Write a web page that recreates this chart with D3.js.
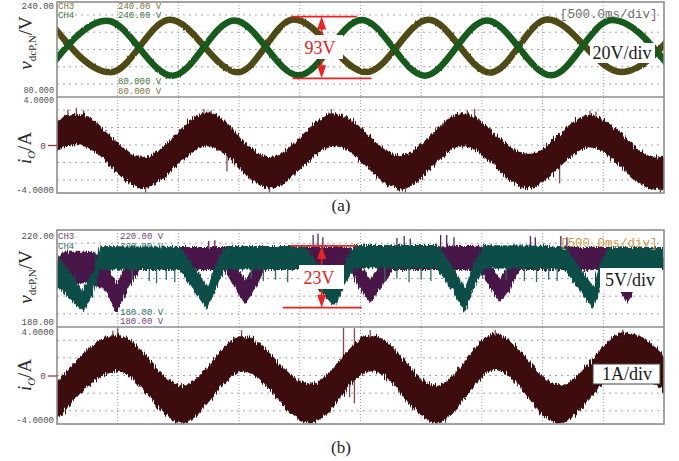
<!DOCTYPE html>
<html>
<head>
<meta charset="utf-8">
<script src="https://cdn.jsdelivr.net/npm/d3@7/dist/d3.min.js"></script>
<style>
  html, body { margin: 0; padding: 0; background: #ffffff; }
  svg { display: block; }
</style>
</head>
<body>
<svg id="scope" width="679" height="461"></svg>
<script>
// ---------- time base: 10 divisions at 500 ms/div ----------
const timeSpan = [0, 5];                       // s
const timeDivs = [0.5, 1, 1.5, 2, 2.5, 3, 3.5, 4, 4.5];
const gridDivs = [-2, -1, 0, 1, 2];

// ---------- (a) ----------
const aVoltRange = [80, 240];                  // V, window bottom / top
const aCurRange = [-4, 4];                     // A
const aVoltTickText = ["240.00", "80.000"];
const aCurTickText = ["4.0000", "-4.0000"];
const aChanNames = ["CH3", "CH4"];
const aChanTopText = ["240.00 V", "240.00 V"];
const aChanBottomText = ["80.000 V", "80.000 V"];

// CH3 (olive) and CH4 (green) DC-link voltages: extremes of each trace
const aCh3Time = [-0.07, 0.44, 0.93, 1.49, 1.95, 2.55, 3.06, 3.57, 4.04, 4.65, 5.17];
const aCh3Volt = [209.0, 121.5, 210.0, 121.5, 210.5, 122.0, 210.0, 121.0, 210.5, 122.0, 209.0];
const aCh4Time = [-0.11, 0.41, 0.95, 1.46, 1.99, 2.51, 3.03, 3.54, 4.07, 4.57, 5.10];
const aCh4Volt = [116.5, 208.5, 116.0, 209.0, 116.5, 209.5, 116.0, 209.0, 116.5, 209.5, 116.5];
const aSwing = [209.5, 116.5];                 // annotated peak / trough of CH4

// output current: upper and lower edge of the switching band
const aCurTime = [-0.35, 0.17, 0.71, 1.24, 1.75, 2.29, 2.83, 3.34, 3.88, 4.39, 4.93, 5.45];
const aCurHigh = [-0.95, 2.6, -1.0, 2.7, -1.0, 2.65, -0.85, 2.65, -0.75, 2.5, -0.95, 2.6];
const aCurLow  = [-3.55, 0.0, -3.6, -0.1, -3.6, -0.1, -3.7, -0.1, -3.6, -0.2, -3.75, -0.05];
const aCurSpikes = [[0.09, 2.95], [0.16, 3.1], [0.22, 2.9], [0.73, -4.1], [1.21, 3.0], [1.27, 2.9],
  [1.40, -2.2], [1.75, -4.1], [2.26, 3.0], [2.87, -4.1], [3.38, 2.9], [3.44, 3.0], [4.14, -3.2],
  [4.39, 2.85], [4.44, 2.8], [4.97, -4.1]];

// ---------- (b) ----------
const bVoltRange = [180, 220];
const bCurRange = [-4, 4];
const bVoltTickText = ["220.00", "180.00"];
const bCurTickText = ["4.0000", "-4.0000"];
const bChanNames = ["CH3", "CH4"];
const bChanTopText = ["220.00 V", "220.00 V"];
const bChanBottomText = ["180.00 V", "180.00 V"];

// CH3 (purple) voltage band
const bCh3Time = [0.00, 0.05, 0.30, 0.40, 0.49, 0.58, 0.68, 1.38, 1.47, 1.55, 1.63, 1.71, 2.41, 2.50, 2.58, 2.66, 2.76,
  3.48, 3.57, 3.65, 3.73, 3.81, 4.56, 4.62, 4.70, 4.77, 4.84, 5.00];
const bCh3High = [208.5, 211, 211, 207, 197.5, 207, 213, 213, 206, 199.5, 206, 213, 213, 206, 199.5, 206, 213,
  213.5, 206, 200, 206, 213, 213, 206, 199, 206, 213, 213];
const bCh3Low = [195.5, 198, 198, 195, 186, 195, 203.5, 203.5, 195.5, 189.5, 195.5, 203.5, 203.5, 195.5, 190, 195.5, 203.5,
  203.5, 195.5, 190.3, 195.5, 203.5, 203.5, 196, 190, 196, 203.5, 203.5];
const bCh3Spikes = [[1.25, 215.5], [1.30, 215.8], [2.11, 217.9], [2.15, 218.5], [2.19, 217], [2.80, 216.7],
  [2.86, 217.5], [2.91, 216.5], [3.16, 218], [3.21, 217.9], [3.27, 217], [3.90, 217.5], [3.94, 217],
  [4.15, 217.5], [4.20, 217]];

// CH4 (teal) voltage band
const bCh4Time = [0.00, 0.11, 0.21, 0.30, 0.35, 1.01, 1.12, 1.24, 1.32, 1.38, 2.04, 2.17, 2.29, 2.37, 2.45,
  3.13, 3.25, 3.36, 3.44, 3.52, 4.18, 4.30, 4.42, 4.47, 4.54, 5.00];
const bCh4High = [209.3, 202.7, 195.3, 203.5, 213.4, 213.0, 205.6, 196.5, 206.8, 213.4, 213.4, 204.3, 197.3, 206.8, 213.8,
  213.8, 205.6, 196.1, 206.8, 213.8, 213.4, 205.2, 196.5, 205.6, 213.0, 213.0];
const bCh4Low = [196.9, 191.1, 186.2, 193.2, 203.6, 203.6, 195.3, 187.0, 197.3, 203.8, 203.6, 194.4, 188.2, 197.3, 204.2,
  204.2, 195.3, 186.2, 196.5, 204.2, 203.8, 195.3, 187.0, 196.1, 203.6, 203.6];
const bCh4Spikes = [[0.62, 199.5], [0.76, 199], [0.82, 198], [0.90, 199.5], [0.97, 198.5], [1.60, 200], [1.70, 199],
  [1.80, 199.5], [1.90, 198.5], [2.70, 199], [2.80, 200], [2.90, 198.5], [3.00, 199.5], [3.08, 199], [3.70, 199.5],
  [3.85, 199], [3.95, 198.5], [4.05, 199.5], [4.12, 199], [4.70, 200], [4.85, 199]];
const bSwing = [212.2, 189.2];

// output current band
const bCurTime = [-0.02, 0.50, 1.03, 1.53, 2.08, 2.59, 3.13, 3.61, 4.14, 4.68, 5.21];
const bCurHigh = [-0.8, 3.35, -0.8, 3.25, -0.65, 3.35, -0.8, 3.45, -0.8, 3.55, -0.8];
const bCurLow  = [-3.95, 0.3, -3.95, 0.3, -3.95, 0.35, -3.95, 0.45, -3.95, 0.6, -3.95];
const bCurSpikes = [[0.46, 3.7], [0.50, 3.9], [1.52, 3.75], [2.36, 3.95], [2.45, 3.9], [2.58, 3.75],
  [2.41, -1.8], [2.45, -2.3], [3.61, 3.75], [4.66, 3.8], [3.13, -4.1]];

// ---------- drawing ----------
const svg = d3.select("#scope");
const monoFont = "'Liberation Mono', 'DejaVu Sans Mono', monospace";
const serifFont = "'Liberation Serif', 'Times New Roman', serif";
const x = d3.scaleLinear().domain(timeSpan).range([57, 664]);
const defs = svg.append("defs");

function addRough(id, freq, scale, seed) {
  const f = defs.append("filter").attr("id", id)
    .attr("x", "-2%").attr("y", "-30%").attr("width", "104%").attr("height", "160%");
  f.append("feTurbulence").attr("type", "fractalNoise").attr("baseFrequency", freq)
    .attr("numOctaves", 2).attr("seed", seed).attr("result", "n");
  f.append("feDisplacementMap").attr("in", "SourceGraphic").attr("in2", "n").attr("scale", scale)
    .attr("xChannelSelector", "R").attr("yChannelSelector", "G");
}
addRough("roughCur", "0.9 0.04", 8, 4);
addRough("roughVa", "0.6 0.08", 2, 7);
addRough("roughVb", "0.9 0.05", 6, 11);

function addClip(id, y0, y1) {
  defs.append("clipPath").attr("id", id).append("rect")
    .attr("x", x.range()[0]).attr("y", y0)
    .attr("width", x.range()[1] - x.range()[0]).attr("height", y1 - y0);
}

function drawGrid(y0, y1) {
  const gy = d3.scaleLinear().domain([-2.75, 2.75]).range([y1, y0]);
  const g = svg.append("g");
  g.selectAll("line.h").data(gridDivs).join("line").attr("class", "h")
    .attr("x1", x.range()[0]).attr("x2", x.range()[1])
    .attr("y1", d => gy(d)).attr("y2", d => gy(d))
    .attr("stroke", "#a4a4a4").attr("stroke-width", 1).attr("stroke-dasharray", "2 4");
  g.selectAll("line.v").data(timeDivs).join("line").attr("class", "v")
    .attr("x1", d => x(d)).attr("x2", d => x(d)).attr("y1", y0).attr("y2", y1)
    .attr("stroke", "#a0a0a0").attr("stroke-width", 1).attr("stroke-dasharray", "1 2");
}

function drawFrame(y0, ym, y1) {
  svg.append("rect").attr("x", x.range()[0]).attr("y", y0)
    .attr("width", x.range()[1] - x.range()[0]).attr("height", y1 - y0)
    .attr("fill", "none").attr("stroke", "#8e8e8e").attr("stroke-width", 1.6);
  svg.append("line").attr("x1", x.range()[0]).attr("x2", x.range()[1]).attr("y1", ym).attr("y2", ym)
    .attr("stroke", "#8e8e8e").attr("stroke-width", 1.6);
}

function drawTrace(clipId, tArr, vArr, yScale, color, width) {
  const line = d3.line().x(d => x(d[0])).y(d => yScale(d[1])).curve(d3.curveMonotoneX);
  svg.append("g").attr("clip-path", `url(#${clipId})`)
    .append("path").attr("d", line(tArr.map((t, i) => [t, vArr[i]])))
    .attr("fill", "none").attr("stroke", color).attr("stroke-width", width)
    .attr("stroke-linejoin", "round").attr("filter", "url(#roughVa)");
}

function drawBand(clipId, tArr, hiArr, loArr, yScale, fill, filterId, curve) {
  const pts = tArr.map((t, i) => ({ t, hi: hiArr[i], lo: loArr[i] }));
  const area = d3.area().x(d => x(d.t)).y0(d => yScale(d.lo)).y1(d => yScale(d.hi)).curve(curve);
  svg.append("g").attr("clip-path", `url(#${clipId})`)
    .append("path").attr("d", area(pts)).attr("fill", fill).attr("filter", `url(#${filterId})`);
}

function drawSpikes(clipId, list, tArr, hiArr, loArr, yScale, color) {
  const mid = d3.scaleLinear().domain(tArr).range(tArr.map((t, i) => (hiArr[i] + loArr[i]) / 2));
  svg.append("g").attr("clip-path", `url(#${clipId})`)
    .selectAll("line").data(list).join("line")
    .attr("x1", d => x(d[0])).attr("x2", d => x(d[0]))
    .attr("y1", d => yScale(mid(d[0]))).attr("y2", d => yScale(d[1]))
    .attr("stroke", color).attr("stroke-width", 1.3);
}

function monoText(tx, ty, str, color, size, anchor) {
  return svg.append("text").attr("x", tx).attr("y", ty).attr("font-family", monoFont)
    .attr("font-size", size || 9).attr("fill", color).attr("text-anchor", anchor || "start").text(str);
}

function zeroTick(cY) {
  const ax = svg.append("g").attr("transform", `translate(${x.range()[0]},0)`)
    .call(d3.axisLeft(cY).tickValues([0]).tickSize(9).tickPadding(2).tickFormat(d3.format("d")));
  ax.select(".domain").remove();
  ax.selectAll("line").attr("stroke", "#8a3a3a").attr("stroke-width", 1.3);
  ax.selectAll("text").attr("fill", "#8a3a3a").attr("font-family", monoFont).attr("font-size", 9.5);
}

function vTitle(cy) {
  const t = svg.append("text").attr("transform", `translate(32,${cy}) rotate(-90)`)
    .attr("text-anchor", "middle").attr("font-family", serifFont).attr("font-size", 19).attr("fill", "#2a2a2a");
  t.append("tspan").attr("font-style", "italic").text("v");
  t.append("tspan").attr("font-size", 11).attr("dy", 4).text("dcP,N");
  t.append("tspan").attr("dy", -4).text("/V");
}

function iTitle(cy) {
  const t = svg.append("text").attr("transform", `translate(31,${cy}) rotate(-90)`)
    .attr("text-anchor", "middle").attr("font-family", serifFont).attr("font-size", 19).attr("fill", "#2a2a2a");
  t.append("tspan").attr("font-style", "italic").text("i");
  t.append("tspan").attr("font-style", "italic").attr("font-size", 11).attr("dy", 4).text("O");
  t.append("tspan").attr("dy", -4).text("/A");
}

function boxLabel(bx, by, bw, bh, str, tx, ty, color, border) {
  svg.append("rect").attr("x", bx).attr("y", by).attr("width", bw).attr("height", bh)
    .attr("fill", "#ffffff").attr("stroke", border || "none").attr("stroke-width", 1);
  svg.append("text").attr("x", tx).attr("y", ty).attr("text-anchor", "middle")
    .attr("font-family", serifFont).attr("font-size", 18).attr("fill", color).text(str);
}

function measure(yTop, yBot, top, bot, ax, box, label) {
  const red = "#ee2020";
  const g = svg.append("g").attr("stroke", red).attr("stroke-width", 1.7);
  g.append("line").attr("x1", x(top[0])).attr("x2", x(top[1])).attr("y1", yTop).attr("y2", yTop);
  g.append("line").attr("x1", x(bot[0])).attr("x2", x(bot[1])).attr("y1", yBot).attr("y2", yBot);
  g.append("line").attr("x1", x(ax)).attr("x2", x(ax)).attr("y1", yTop + 6).attr("y2", box[1]);
  g.append("line").attr("x1", x(ax)).attr("x2", x(ax)).attr("y1", box[1] + box[3]).attr("y2", yBot - 6);
  const cx = x(ax);
  svg.append("path").attr("fill", red)
    .attr("d", `M${cx},${yTop}L${cx - 4.5},${yTop + 13}L${cx + 4.5},${yTop + 13}Z`);
  svg.append("path").attr("fill", red)
    .attr("d", `M${cx},${yBot}L${cx - 4.5},${yBot - 13}L${cx + 4.5},${yBot - 13}Z`);
  boxLabel(box[0], box[1], box[2], box[3], label, box[4], box[5], red);
}

// ---------------- panel (a) ----------------
const aTop = 2, aMid = 97, aBot = 193;
const vYa = d3.scaleLinear().domain(aVoltRange).range([aMid, aTop]);
const cYa = d3.scaleLinear().domain(aCurRange).range([aBot, aMid]);
addClip("clipAV", aTop, aMid);
addClip("clipAC", aMid, aBot);

drawGrid(aTop, aMid);
drawGrid(aMid, aBot);

monoText(58, 9, aChanNames[0], "#7a7236");
monoText(58, 18, aChanNames[1], "#3b7744");
monoText(118, 9, aChanTopText[0], "#7a7236");
monoText(118, 18, aChanTopText[1], "#3b7744");
monoText(118, 84, aChanBottomText[0], "#3b7744");
monoText(118, 93.5, aChanBottomText[1], "#7a7236");

drawTrace("clipAV", aCh3Time, aCh3Volt, vYa, "#4f4913", 6.5);
drawTrace("clipAV", aCh4Time, aCh4Volt, vYa, "#135a1b", 6.5);

drawSpikes("clipAC", aCurSpikes, aCurTime, aCurHigh, aCurLow, cYa, "#8a4545");
drawBand("clipAC", aCurTime, aCurHigh, aCurLow, cYa, "#3d0a0a", "roughCur", d3.curveMonotoneX);

drawFrame(aTop, aMid, aBot);

monoText(560, 18, "[500.0ms/div]", "#707070", 12.5);
boxLabel(590, 43, 65, 20, "20V/div", 622, 59, "#1a1a1a");
measure(vYa(aSwing[0]) - 3.5, vYa(aSwing[1]) + 3, [1.93, 2.47], [1.94, 2.59], 2.18,
  [301, 35, 42, 24, 320, 54], `${d3.format(".0f")(aSwing[0] - aSwing[1])}V`);

monoText(54, vYa(aVoltRange[1]) + 7, aVoltTickText[0], "#505050", 9, "end");
monoText(54, vYa(aVoltRange[0]) - 4.5, aVoltTickText[1], "#505050", 8.5, "end");
monoText(54, cYa(aCurRange[1]) + 5.5, aCurTickText[0], "#505050", 8.5, "end");
monoText(54, cYa(aCurRange[0]) - 0.5, aCurTickText[1], "#505050", 9, "end");
zeroTick(cYa);
vTitle(43);
iTitle(148);
svg.append("text").attr("x", 341).attr("y", 211).attr("text-anchor", "middle")
  .attr("font-family", serifFont).attr("font-size", 17).attr("fill", "#222").text("(a)");

// ---------------- panel (b) ----------------
const bTop = 230, bMid = 327, bBot = 424;
const vYb = d3.scaleLinear().domain(bVoltRange).range([bMid, bTop]);
const cYb = d3.scaleLinear().domain(bCurRange).range([bBot, bMid]);
addClip("clipBV", bTop, bMid);
addClip("clipBC", bMid, bBot);

drawGrid(bTop, bMid);
drawGrid(bMid, bBot);

monoText(58, 239, bChanNames[0], "#74407e");
monoText(58, 249, bChanNames[1], "#2f7068");
monoText(120, 239, bChanTopText[0], "#74407e");
monoText(120, 249, bChanTopText[1], "#2f7068");
monoText(120, 315, bChanBottomText[0], "#2f7068");
monoText(120, 324, bChanBottomText[1], "#74407e");

drawSpikes("clipBV", bCh3Spikes, bCh3Time, bCh3High, bCh3Low, vYb, "#5a2060");
drawBand("clipBV", bCh3Time, bCh3High, bCh3Low, vYb, "#4a1349", "roughVb", d3.curveLinear);
drawSpikes("clipBV", bCh4Spikes, bCh4Time, bCh4High, bCh4Low, vYb, "#2f6d66");
drawBand("clipBV", bCh4Time, bCh4High, bCh4Low, vYb, "#0e4d46", "roughVb", d3.curveLinear);

drawSpikes("clipBC", bCurSpikes, bCurTime, bCurHigh, bCurLow, cYb, "#8a4545");
drawBand("clipBC", bCurTime, bCurHigh, bCurLow, cYb, "#3d0a0a", "roughCur", d3.curveMonotoneX);

drawFrame(bTop, bMid, bBot);

monoText(560, 247, "[500.0ms/div]", "#d09a48", 12.5);
boxLabel(600, 268, 62, 24, "5V/div", 630, 286, "#1a1a1a");
boxLabel(593, 364, 67, 20, "1A/div", 627, 380, "#1a1a1a", "#444");
measure(vYb(bSwing[0]) - 3, vYb(bSwing[1]) + 3, [1.92, 2.47], [1.86, 2.51], 2.18,
  [299, 265, 45, 24, 319, 284], `${d3.format(".0f")(bSwing[0] - bSwing[1])}V`);

monoText(54, vYb(bVoltRange[1]) + 9, bVoltTickText[0], "#505050", 9, "end");
monoText(54, vYb(bVoltRange[0]) - 2, bVoltTickText[1], "#505050", 9, "end");
monoText(54, cYb(bCurRange[1]) + 8, bCurTickText[0], "#505050", 9, "end");
monoText(54, cYb(bCurRange[0]) - 1, bCurTickText[1], "#505050", 9, "end");
zeroTick(cYb);
vTitle(277);
iTitle(375);
svg.append("text").attr("x", 341).attr("y", 453).attr("text-anchor", "middle")
  .attr("font-family", serifFont).attr("font-size", 17).attr("fill", "#222").text("(b)");
</script>
</body>
</html>
